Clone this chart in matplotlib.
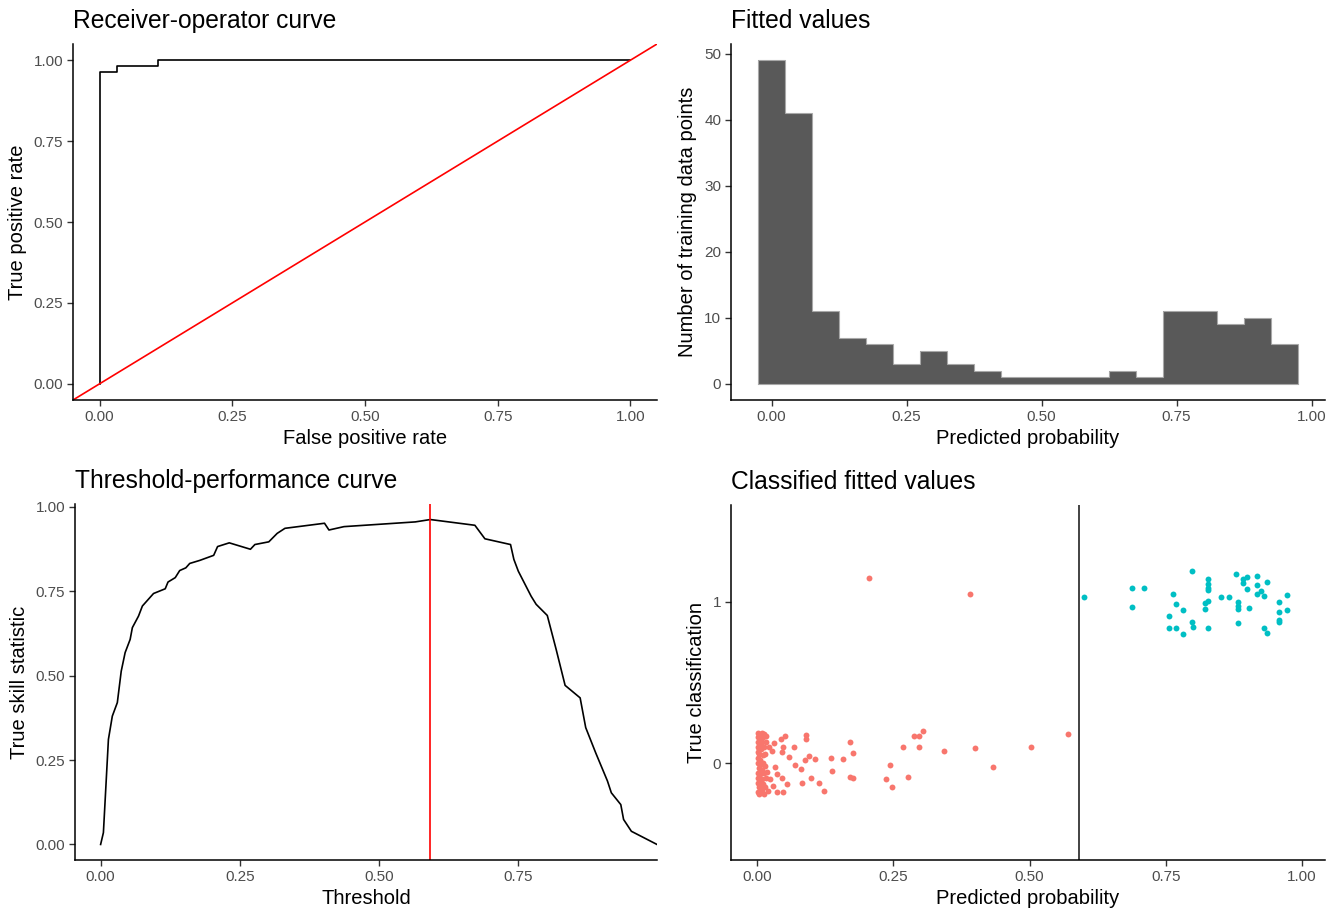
import numpy as np
import matplotlib.pyplot as plt

plt.rcParams['font.family'] = ['Liberation Sans', 'DejaVu Sans']

# ---------- ROC ----------
fpr = [0.0, 0.0, 0.032, 0.032, 0.11, 0.11, 1.0]
tpr = [0.0, 0.962, 0.962, 0.981, 0.981, 1.0, 1.0]

# ---------- histogram of fitted values ----------
bin_centers = [0.00, 0.05, 0.10, 0.15, 0.20, 0.25, 0.30, 0.35, 0.40, 0.45,
               0.50, 0.55, 0.60, 0.65, 0.70, 0.75, 0.80, 0.85, 0.90, 0.95]
bin_counts = [49, 41, 11, 7, 6, 3, 5, 3, 2, 1, 1, 1, 1, 2, 1, 11, 11, 9, 10, 6]

# ---------- threshold curve ----------
thr = [0.0, 0.005, 0.014, 0.021, 0.030, 0.037, 0.044, 0.053, 0.057, 0.068,
       0.075, 0.095, 0.116, 0.121, 0.134, 0.142, 0.153, 0.160, 0.178, 0.203,
       0.210, 0.231, 0.269, 0.277, 0.302, 0.317, 0.331, 0.402, 0.410, 0.437,
       0.565, 0.592, 0.672, 0.690, 0.736, 0.742, 0.750, 0.773, 0.782, 0.802,
       0.818, 0.834, 0.861, 0.871, 0.889, 0.910, 0.917, 0.934, 0.939, 0.953,
       0.999]
tss = [0.0, 0.035, 0.311, 0.380, 0.420, 0.513, 0.568, 0.607, 0.642, 0.676,
       0.706, 0.743, 0.757, 0.777, 0.790, 0.811, 0.819, 0.832, 0.841, 0.856,
       0.882, 0.893, 0.874, 0.888, 0.896, 0.921, 0.936, 0.951, 0.931, 0.941,
       0.955, 0.962, 0.945, 0.905, 0.888, 0.844, 0.809, 0.735, 0.711, 0.678,
       0.577, 0.471, 0.434, 0.346, 0.271, 0.188, 0.153, 0.118, 0.074, 0.039,
       0.0]
best_thr = 0.591

# ---------- classified fitted values (jittered) ----------
neg_x = [0.206, 0.390, 0.570, 0.503, 0.433, 0.400, 0.343, 0.305, 0.297, 0.288,
         0.297, 0.267, 0.276, 0.247, 0.237, 0.243, 0.176, 0.171, 0.157, 0.135,
         0.137, 0.170, 0.175, 0.122, 0.114, 0.098, 0.083, 0.081, 0.069, 0.088,
         0.095, 0.107, 0.059, 0.067, 0.090, 0.090, 0.051, 0.044, 0.048, 0.045,
         0.030, 0.022, 0.028, 0.032, 0.036, 0.046, 0.055, 0.048, 0.037, 0.029,
         0.023, 0.018,
         0.001, 0.004, 0.008, 0.012, 0.016, 0.002, 0.006, 0.010, 0.001, 0.005,
         0.009, 0.002, 0.007, 0.013, 0.001, 0.004, 0.010, 0.015, 0.002, 0.006,
         0.001, 0.005, 0.011, 0.003, 0.008, 0.014, 0.001, 0.006, 0.012, 0.002,
         0.009, 0.016, 0.001, 0.005, 0.011, 0.003, 0.008, 0.014, 0.001, 0.004,
         0.009, 0.013, 0.019, 0.003, 0.007, 0.017]
neg_y = [1.149, 1.047, 0.182, 0.102, -0.025, 0.092, 0.078, 0.198, 0.168, 0.166,
         0.102, 0.102, -0.084, -0.145, -0.096, -0.012, 0.063, 0.133, 0.029, 0.031,
         -0.047, -0.088, -0.090, -0.172, -0.123, -0.094, -0.123, -0.033, -0.010, 0.020,
         0.047, 0.023, 0.041, 0.102, 0.174, 0.152, 0.166, 0.149, 0.102, 0.072,
         0.123, 0.102, 0.078, -0.025, -0.069, -0.092, -0.129, -0.176, -0.176, -0.143,
         -0.098, -0.057,
         0.19, 0.18, 0.19, 0.18, 0.17, 0.16, 0.15, 0.16, 0.13, 0.12,
         0.13, 0.10, 0.09, 0.10, 0.07, 0.06, 0.05, 0.06, 0.03, 0.02,
         0.00, -0.01, 0.00, -0.03, -0.04, -0.02, -0.06, -0.07, -0.06, -0.09,
         -0.10, -0.09, -0.12, -0.12, -0.13, -0.15, -0.16, -0.15, -0.18, -0.19,
         -0.18, -0.19, -0.17, 0.085, -0.135, 0.13]

pos_x = [0.600, 0.687, 0.709, 0.687, 0.798, 0.763, 0.768, 0.782, 0.755, 0.755,
         0.768, 0.782, 0.798, 0.799, 0.828, 0.828, 0.828, 0.828, 0.821, 0.828,
         0.821, 0.828, 0.851, 0.866, 0.878, 0.892, 0.899, 0.892, 0.899, 0.883,
         0.883, 0.883, 0.883, 0.903, 0.918, 0.936, 0.918, 0.925, 0.918, 0.930,
         0.972, 0.958, 0.972, 0.958, 0.957, 0.957, 0.930, 0.936]
pos_y = [1.031, 1.084, 1.086, 0.969, 1.188, 1.047, 0.986, 0.949, 0.910, 0.836,
         0.838, 0.802, 0.877, 0.847, 1.139, 1.112, 1.088, 1.072, 0.994, 1.002,
         0.955, 0.838, 1.027, 1.027, 1.174, 1.139, 1.155, 1.119, 1.082, 0.996,
         0.975, 0.955, 0.869, 0.959, 1.161, 1.121, 1.102, 1.067, 1.047, 1.035,
         1.045, 0.996, 0.951, 0.937, 0.890, 0.873, 0.836, 0.806]

W, H = 1332, 913
fig = plt.figure(figsize=(W / 100, H / 100), dpi=100)


def make_ax(l, r, t, b):
    ax = fig.add_axes([l / W, (H - b) / H, (r - l) / W, (b - t) / H])
    for s in ['top', 'right']:
        ax.spines[s].set_visible(False)
    for s in ['left', 'bottom']:
        ax.spines[s].set_linewidth(1.1)
        ax.spines[s].set_color('black')
    ax.tick_params(length=4, width=1.0, color='#333333', labelsize=11,
                   labelcolor='#4d4d4d', pad=3)
    return ax


def style_text(ax, title, xlabel, ylabel):
    ax.set_title(title, loc='left', fontsize=17.7, pad=11.5)
    ax.set_xlabel(xlabel, fontsize=14.5, labelpad=4)
    ax.set_ylabel(ylabel, fontsize=14.5, labelpad=5)


ticks = [0, 0.25, 0.5, 0.75, 1.0]
tick_lab = ['0.00', '0.25', '0.50', '0.75', '1.00']

# top-left: ROC
ax1 = make_ax(73, 657, 44, 400)
ax1.plot(fpr, tpr, color='black', lw=1.2)
ax1.axline((0, 0), (1, 1), color='red', lw=1.2)
ax1.set_xlim(-0.05, 1.05)
ax1.set_ylim(-0.05, 1.05)
ax1.set_xticks(ticks, tick_lab)
ax1.set_yticks(ticks, tick_lab)
style_text(ax1, 'Receiver-operator curve', 'False positive rate', 'True positive rate')

# top-right: histogram
ax2 = make_ax(731, 1325, 44, 400)
edges = np.append(np.array(bin_centers) - 0.025, bin_centers[-1] + 0.025)
ax2.stairs(bin_counts, edges, fill=True, color='#595959')
ax2.stairs(bin_counts, edges, color='#a8a8a8', lw=0.8)
ax2.plot([edges[0], edges[-1]], [0, 0], color='#a8a8a8', lw=0.8)
ax2.set_xlim(-0.075, 1.025)
ax2.set_ylim(-2.45, 51.45)
ax2.set_xticks(ticks, tick_lab)
ax2.set_yticks([0, 10, 20, 30, 40, 50])
style_text(ax2, 'Fitted values', 'Predicted probability', 'Number of training data points')

# bottom-left: threshold curve
ax3 = make_ax(75, 657, 504, 860)
ax3.plot(thr, tss, color='black', lw=1.2)
ax3.axvline(best_thr, color='red', lw=1.2)
ax3.set_xlim(-0.046, 0.999)
ax3.set_ylim(-0.046, 1.008)
ax3.set_xticks(ticks[:4], tick_lab[:4])
ax3.set_yticks(ticks, tick_lab)
style_text(ax3, 'Threshold-performance curve', 'Threshold', 'True skill statistic')

# bottom-right: classified scatter
ax4 = make_ax(731, 1325, 505, 860)
ax4.scatter(neg_x, neg_y, s=18, color='#F8766D', linewidths=0)
ax4.scatter(pos_x, pos_y, s=18, color='#00BFC4', linewidths=0)
ax4.axvline(best_thr, color='#222222', lw=1.2)
ax4.set_xlim(-0.048, 1.042)
ax4.set_ylim(-0.6, 1.6)
ax4.set_xticks(ticks, tick_lab)
ax4.set_yticks([0, 1], ['0', '1'])
style_text(ax4, 'Classified fitted values', 'Predicted probability', 'True classification')

fig.savefig('out.png', dpi=100)
